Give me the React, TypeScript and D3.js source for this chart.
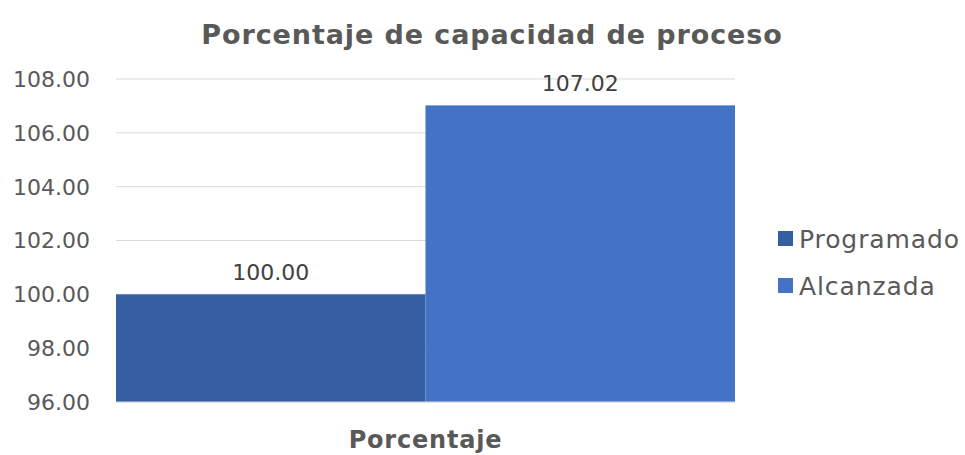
import { useEffect, useRef } from "react";
import * as d3 from "d3";

const categories = ["Porcentaje"];
const seriesNames = ["Programado", "Alcanzada"];
const seriesValues = [100.0, 107.02];
const seriesColors = ["#355EA3", "#4472C4"];
const yTicks = [96, 98, 100, 102, 104, 106, 108];

const App = () => {
  const svgRef = useRef<SVGSVGElement | null>(null);

  const width = 965;
  const height = 455;

  useEffect(() => {
    if (!svgRef.current) return;
    const svg = d3.select(svgRef.current);
    svg.selectAll("*").remove();

    const font = "'DejaVu Sans', sans-serif";
    const textColor = "#595959";

    // plot area
    const left = 116;
    const right = 735;
    const top = 79;
    const bottom = 402;

    const y = d3.scaleLinear().domain([96, 108]).range([bottom, top]);
    const x0 = d3.scaleBand().domain(categories).range([left, right]).padding(0);
    const x1 = d3
      .scaleBand()
      .domain(seriesNames)
      .range([0, x0.bandwidth()])
      .padding(0);

    // title
    svg
      .append("text")
      .attr("x", 492)
      .attr("y", 44)
      .attr("text-anchor", "middle")
      .attr("font-family", font)
      .attr("font-weight", "bold")
      .attr("font-size", 27)
      .attr("letter-spacing", 0.9)
      .attr("fill", textColor)
      .text("Porcentaje de capacidad de proceso");

    // gridlines
    svg
      .append("g")
      .selectAll("line")
      .data(yTicks)
      .join("line")
      .attr("x1", left)
      .attr("x2", right)
      .attr("y1", (d) => y(d))
      .attr("y2", (d) => y(d))
      .attr("stroke", "#d9d9d9")
      .attr("stroke-width", 1);

    // y tick labels
    svg
      .append("g")
      .selectAll("text")
      .data(yTicks)
      .join("text")
      .attr("x", 90)
      .attr("y", (d) => y(d))
      .attr("dy", "0.36em")
      .attr("text-anchor", "end")
      .attr("font-family", font)
      .attr("font-size", 22)
      .attr("fill", textColor)
      .text((d) => d.toFixed(2));

    // bars
    const barG = svg.append("g");
    categories.forEach((c) => {
      seriesNames.forEach((s, i) => {
        const bx = (x0(c) ?? 0) + (x1(s) ?? 0);
        barG
          .append("rect")
          .attr("x", bx)
          .attr("y", y(seriesValues[i]))
          .attr("width", x1.bandwidth())
          .attr("height", y(96) - y(seriesValues[i]))
          .attr("fill", seriesColors[i]);
        barG
          .append("text")
          .attr("x", bx + x1.bandwidth() / 2)
          .attr("y", y(seriesValues[i]) - 14)
          .attr("text-anchor", "middle")
          .attr("font-family", font)
          .attr("font-size", 22)
          .attr("fill", "#404040")
          .text(seriesValues[i].toFixed(2));
      });
    });

    // x axis line
    svg
      .append("line")
      .attr("x1", left)
      .attr("x2", right)
      .attr("y1", bottom)
      .attr("y2", bottom)
      .attr("stroke", "#d9d9d9");

    // category label
    svg
      .append("g")
      .selectAll("text")
      .data(categories)
      .join("text")
      .attr("x", (d) => (x0(d) ?? 0) + x0.bandwidth() / 2)
      .attr("y", 448)
      .attr("text-anchor", "middle")
      .attr("font-family", font)
      .attr("font-weight", "bold")
      .attr("font-size", 24)
      .attr("letter-spacing", 0.8)
      .attr("fill", textColor)
      .text((d) => d);

    // legend
    const legend = svg.append("g");
    seriesNames.forEach((s, i) => {
      const ly = 239 + i * 47;
      legend
        .append("rect")
        .attr("x", 778)
        .attr("y", ly - 8)
        .attr("width", 15)
        .attr("height", 15)
        .attr("fill", seriesColors[i]);
      legend
        .append("text")
        .attr("x", 799)
        .attr("y", ly)
        .attr("dy", "0.36em")
        .attr("font-family", font)
        .attr("font-size", 25)
        .attr("letter-spacing", 0.9)
        .attr("fill", textColor)
        .text(s);
    });
  }, []);

  return (
    <div style={{ position: "absolute", left: 0, top: 0, width, height, background: "#fff" }}>
      <svg ref={svgRef} width={width} height={height} viewBox={`0 0 ${width} ${height}`} />
    </div>
  );
};

export default App;
